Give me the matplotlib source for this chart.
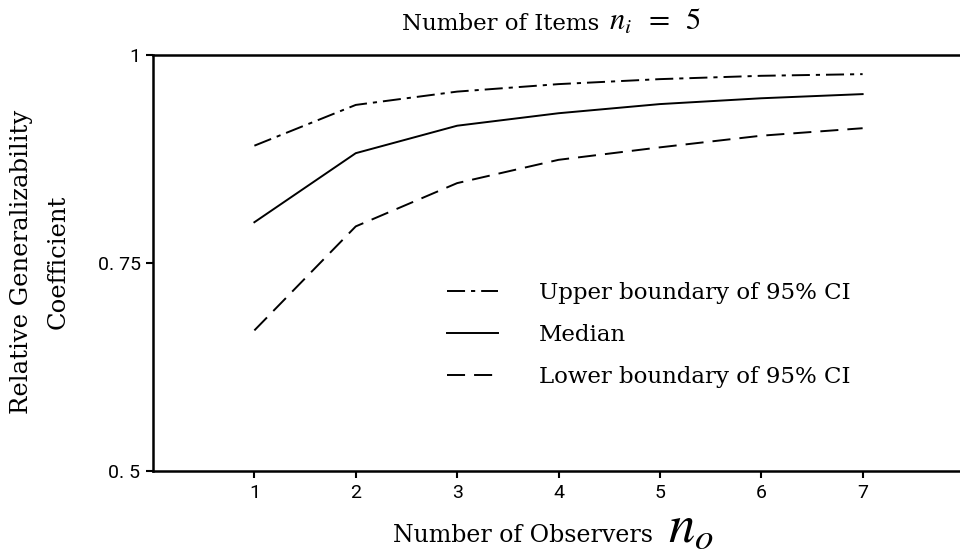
import matplotlib
matplotlib.use("Agg")
import matplotlib.pyplot as plt
from matplotlib.lines import Line2D

observers = [1, 2, 3, 4, 5, 6, 7]
upper = [0.891, 0.940, 0.956, 0.965, 0.971, 0.975, 0.977]
median = [0.799, 0.882, 0.915, 0.930, 0.941, 0.948, 0.953]
lower = [0.669, 0.794, 0.846, 0.874, 0.889, 0.903, 0.912]
ytick_vals = [0.5, 0.75, 1.0]
ytick_labels = ["0. 5", "0. 75", "1"]
legend_labels = ["Upper boundary of 95% CI", "Median", "Lower boundary of 95% CI"]

plt.rcParams['mathtext.fontset'] = 'stix'
plt.rcParams['lines.scale_dashes'] = False
serif = ['DejaVu Serif']
tickfont = ['Roboto', 'DejaVu Sans']

W, H = 960, 558
fig = plt.figure(figsize=(9.6, 5.58), dpi=100)
ax = fig.add_axes([153/W, 1-471/H, (964-153)/W, (471-55)/H])

lw = 1.4
dash_up = [13, 4.3, 3, 4.3]
dash_lo = [13, 6.5]
ax.plot(observers, upper, color='black', lw=lw, dashes=dash_up)
ax.plot(observers, median, color='black', lw=lw)
ax.plot(observers, lower, color='black', lw=lw, dashes=dash_lo)

ax.set_xlim(0, 8)
ax.set_ylim(0.5, 1.0)
ax.set_xticks(observers)
ax.set_xticklabels([str(v) for v in observers], family=tickfont, fontsize=14)
ax.set_yticks(ytick_vals)
ax.set_yticklabels(ytick_labels, family=tickfont, fontsize=14)
ax.tick_params(axis='both', direction='out', length=5, width=1.5, pad=4)
for s in ['left', 'bottom', 'top']:
    ax.spines[s].set_linewidth(1.8)
ax.spines['right'].set_visible(False)

fig.text(402/W, 1-30/H, "Number of Items",
         ha='left', va='baseline', fontsize=16.5, family=serif)
fig.text(609/W, 1-30/H, r"$n_i\;\;=\;\;5$",
         ha='left', va='baseline', fontsize=22, family=serif)
fig.text(653/W, 1-542/H, "Number of Observers",
         ha='right', va='baseline', fontsize=17, family=serif)
fig.text(668/W, 1-542/H, r"$n_o$",
         ha='left', va='baseline', fontsize=38, family=serif)
fig.text(40/W, 1-262/H, "Relative Generalizability\nCoefficient",
         ha='center', va='center', rotation=90, fontsize=17.5, family=serif,
         linespacing=1.75)

handles = [Line2D([], [], color='black', lw=lw, dashes=dash_up),
           Line2D([], [], color='black', lw=lw),
           Line2D([], [], color='black', lw=lw, dashes=dash_lo)]
leg = ax.legend(handles, legend_labels, loc='upper left',
                bbox_to_anchor=((429-153)/811, 1-(264-55)/416),
                frameon=False, prop={'family': serif, 'size': 16.5},
                handlelength=2.2, handletextpad=1.8, labelspacing=0.87,
                borderpad=0.3)

fig.savefig("out.png", dpi=100)
